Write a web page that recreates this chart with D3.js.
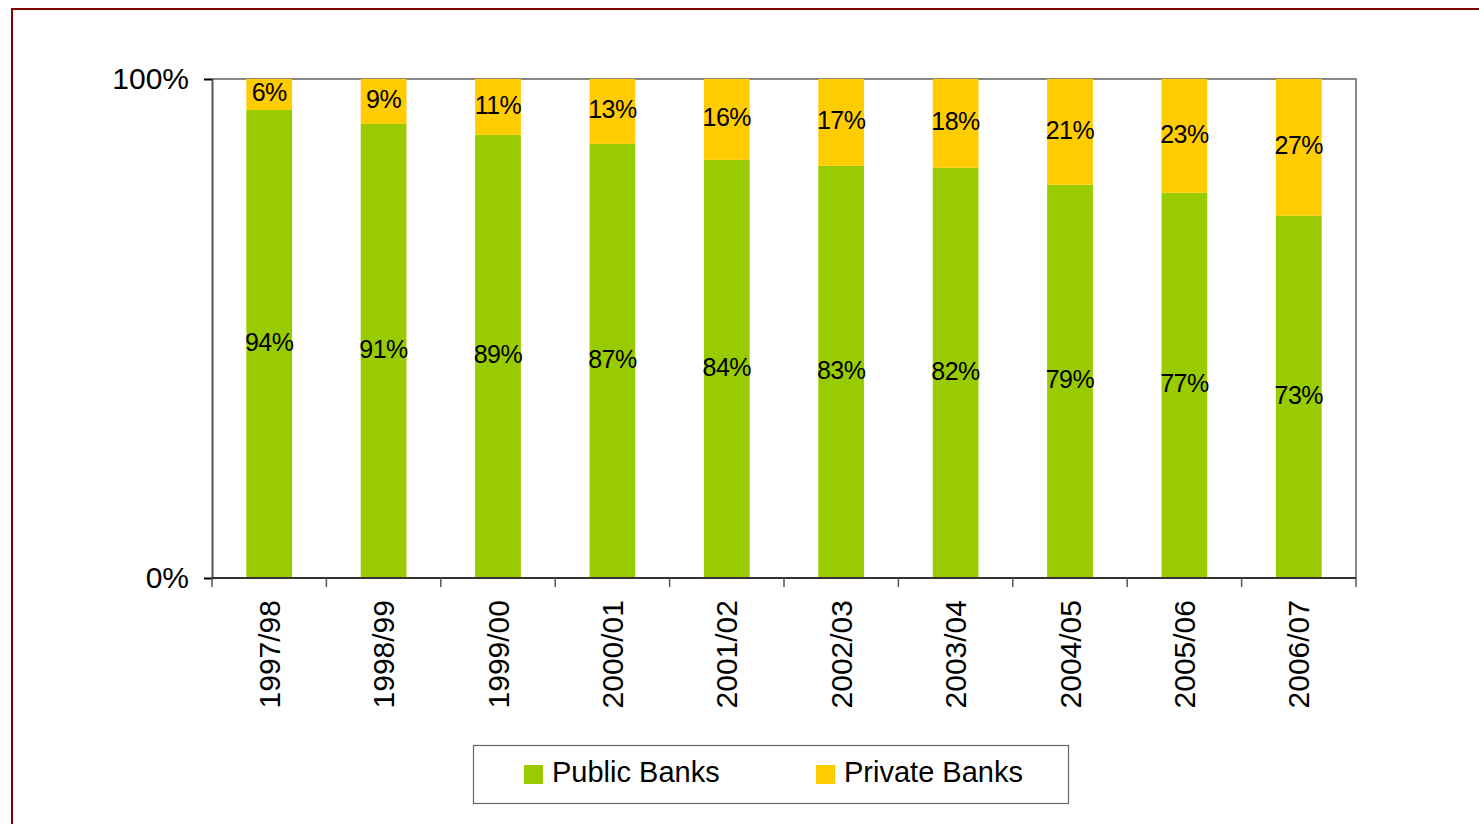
<!DOCTYPE html>
<html>
<head>
<meta charset="utf-8">
<script src="https://d3js.org/d3.v7.min.js"></script>
<style>
  body { margin: 0; background: #fff; }
  svg { display: block; font-family: "Liberation Sans", Arial, sans-serif; }
</style>
</head>
<body>
<svg></svg>
<script>
    var width = 1479;
    var height = 824;
    var margin = ({top: 79, right: 123, bottom: 246, left: 212});

    // values (share of total, %)
    var years = ["1997/98", "1998/99", "1999/00", "2000/01", "2001/02",
                 "2002/03", "2003/04", "2004/05", "2005/06", "2006/07"];
    var publicBanks  = [93.8, 91.0, 88.8, 87.0, 83.8, 82.6, 82.2, 78.8, 77.2, 72.6];
    var privateBanks = [6.2, 9.0, 11.2, 13.0, 16.2, 17.4, 17.8, 21.2, 22.8, 27.4];
    var seriesNames  = ["Public Banks", "Private Banks"];
    var seriesColors = ["#99CC00", "#FFCC00"];
    var yTicks = [0, 100];

    var data = years.map((yr, i) => ({year: yr, pub: publicBanks[i], priv: privateBanks[i]}));

    var svg = d3.select("svg")
        .attr("width", width)
        .attr("height", height);

    // outer frame
    svg.append("rect")
        .attr("x", 12).attr("y", 9)
        .attr("width", 1500).attr("height", 900)
        .attr("fill", "none")
        .attr("stroke", "#800000")
        .attr("stroke-width", 2);

    var x = d3.scaleBand()
        .domain(years)
        .range([margin.left, width - margin.right])
        .paddingInner(0.6)
        .paddingOuter(0.3);

    var y = d3.scaleLinear()
        .domain([0, 100])
        .range([height - margin.bottom, margin.top]);

    var stack = d3.stack().keys(["pub", "priv"]);
    var layers = stack(data);

    // plot frame (top + right)
    svg.append("path")
        .attr("d", `M${margin.left},${y(100)}H${width - margin.right}V${y(0)}`)
        .attr("fill", "none")
        .attr("stroke", "#888")
        .attr("stroke-width", 2);

    svg.selectAll("g.layer")
        .data(layers)
        .join("g")
        .attr("class", "layer")
        .attr("fill", (d, i) => seriesColors[i])
        .selectAll("rect")
        .data(d => d)
        .join("rect")
        .attr("x", d => x(d.data.year))
        .attr("y", d => y(d[1]))
        .attr("width", x.bandwidth())
        .attr("height", d => y(d[0]) - y(d[1]));

    // segment labels
    svg.selectAll("g.labels")
        .data(layers)
        .join("g")
        .attr("class", "labels")
        .selectAll("text")
        .data(d => d)
        .join("text")
        .attr("x", d => x(d.data.year) + x.bandwidth() / 2)
        .attr("y", d => y((d[0] + d[1]) / 2) - 2)
        .attr("dy", "0.35em")
        .attr("text-anchor", "middle")
        .attr("font-size", 25)
        .attr("letter-spacing", -0.5)
        .attr("fill", "#000")
        .text(d => Math.round(d[1] - d[0]) + "%");

    // y axis
    var yAxis = svg.append("g")
        .attr("transform", `translate(${margin.left},0)`)
        .call(d3.axisLeft(y).tickValues(yTicks).tickSize(8).tickFormat(d => d + "%"));
    yAxis.select(".domain").attr("stroke", "#555").attr("stroke-width", 2);
    yAxis.selectAll(".tick line").attr("stroke", "#000").attr("stroke-width", 1.5);
    yAxis.selectAll(".tick text")
        .attr("x", -23)
        .attr("font-size", 30)
        .attr("font-family", "Liberation Sans, Arial, sans-serif")
        .attr("fill", "#000");

    // x axis with ticks between categories
    var xg = svg.append("g");
    var gap = (x.step() - x.bandwidth()) / 2;
    var bounds = years.map(d => x(d) - gap).concat([width - margin.right]);
    xg.append("line")
        .attr("x1", margin.left).attr("x2", width - margin.right)
        .attr("y1", y(0)).attr("y2", y(0))
        .attr("stroke", "#333").attr("stroke-width", 2);
    xg.selectAll("line.tick")
        .data(bounds)
        .join("line")
        .attr("class", "tick")
        .attr("x1", d => d).attr("x2", d => d)
        .attr("y1", y(0)).attr("y2", y(0) + 9)
        .attr("stroke", "#555").attr("stroke-width", 1.5);
    xg.selectAll("text")
        .data(years)
        .join("text")
        .attr("transform", d => `translate(${x(d) + x.bandwidth() / 2},${y(0) + 22}) rotate(-90)`)
        .attr("dy", "0.35em")
        .attr("text-anchor", "end")
        .attr("font-size", 30)
        .attr("fill", "#000")
        .text(d => d);

    // legend
    var legend = svg.append("g");
    legend.append("rect")
        .attr("x", 473.5).attr("y", 745.5)
        .attr("width", 595).attr("height", 58)
        .attr("fill", "#fff")
        .attr("stroke", "#666")
        .attr("stroke-width", 1.2);
    var legendX = [524, 816];
    var items = legend.selectAll("g.item")
        .data(seriesNames)
        .join("g")
        .attr("class", "item")
        .attr("transform", (d, i) => `translate(${legendX[i]},0)`);
    items.append("rect")
        .attr("x", 0).attr("y", 765)
        .attr("width", 19).attr("height", 19)
        .attr("fill", (d, i) => seriesColors[i]);
    items.append("text")
        .attr("x", 28).attr("y", 772)
        .attr("dy", "0.35em")
        .attr("font-size", 29)
        .attr("fill", "#000")
        .text(d => d);
</script>
</body>
</html>
